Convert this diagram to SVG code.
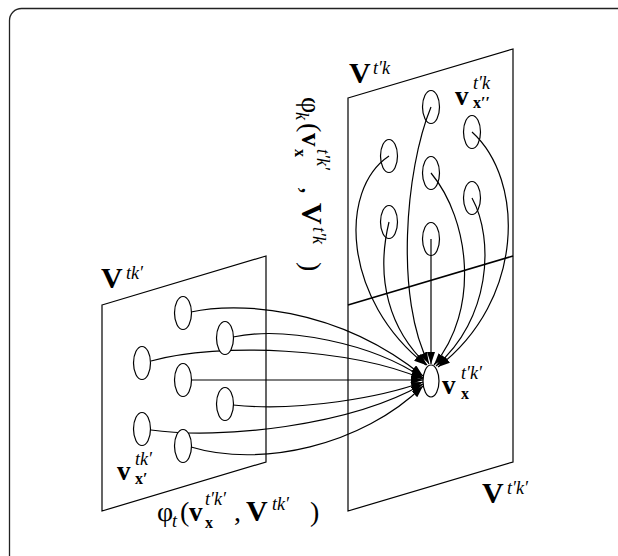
<svg xmlns="http://www.w3.org/2000/svg" width="618" height="556" viewBox="0 0 618 556">
<defs>
<marker id="ah" markerUnits="userSpaceOnUse" markerWidth="13" markerHeight="8" refX="12" refY="4" orient="auto">
<path d="M0,0 L12,4 L0,8 z" fill="#000"/>
</marker>
<style>
.frame{fill:none;stroke:#222;stroke-width:1.3}
.edge{fill:none;stroke:#000;stroke-width:1.2}
.hz{fill:none;stroke:#000;stroke-width:1.6}
.nd{fill:#fff;stroke:#000;stroke-width:1.2}
.c{fill:none;stroke:#000;stroke-width:1.2;marker-end:url(#ah)}
text{font-family:"Liberation Serif","DejaVu Serif",serif;fill:#000}
.B{font-weight:bold}
.big{font-size:30px}
.med{font-size:27px}
.sup{font-size:18px;font-style:italic}
.sub{font-size:16px;font-weight:bold}
.fn{font-size:28px}
</style>
</defs>
<rect class="frame" x="9.5" y="8.5" width="640" height="600" rx="12"/>

<g id="panel-right">
<path class="edge" d="M348,98 L513,49 L513,462 L348,511 Z"/>
<path class="hz" d="M348,305 L513,256"/>
</g>
<g id="panel-left">
<path class="edge" d="M102,305 L266,256 L266,462 L102,511 Z"/>
</g>

<g id="connectors">
<path class="c" d="M191,312 C235,302 335,305 423,376"/>
<path class="c" d="M233,337 C285,326 372,343 423,378"/>
<path class="c" d="M151,361 C220,342 350,348 423,379"/>
<path class="c" d="M191,380 L423,380"/>
<path class="c" d="M233,405 C300,412 382,397 423,382"/>
<path class="c" d="M151,430 C220,440 350,426 423,384"/>
<path class="c" d="M191,447 C260,468 362,446 423,386"/>
<path class="c" d="M431,107 C405,170 395,300 429,364"/>
<path class="c" d="M389,156 C338,190 343,300 426,365"/>
<path class="c" d="M389,222 C375,280 390,330 427,365"/>
<path class="c" d="M431,239 L431,364"/>
<path class="c" d="M431,173 C470,220 480,310 434,365"/>
<path class="c" d="M472,198 C495,240 490,320 436,366"/>
<path class="c" d="M472,132 C525,180 525,300 438,367"/>
</g>

<g id="l1"><ellipse class="nd" cx="183" cy="313" rx="8.5" ry="16.5"/></g>
<g id="l2"><ellipse class="nd" cx="225" cy="338" rx="8.5" ry="16.5"/></g>
<g id="l3"><ellipse class="nd" cx="142" cy="363" rx="8.5" ry="16.5"/></g>
<g id="l4"><ellipse class="nd" cx="183" cy="380" rx="8.5" ry="16.5"/></g>
<g id="l5"><ellipse class="nd" cx="225" cy="404" rx="8.5" ry="16.5"/></g>
<g id="l6"><ellipse class="nd" cx="142" cy="429" rx="8.5" ry="16.5"/></g>
<g id="l7"><ellipse class="nd" cx="183" cy="446" rx="8.5" ry="16.5"/></g>

<g id="r1"><ellipse class="edge" cx="431" cy="107" rx="8.5" ry="16.5"/></g>
<g id="r2"><ellipse class="edge" cx="472" cy="132" rx="8.5" ry="16.5"/></g>
<g id="r3"><ellipse class="edge" cx="389" cy="156" rx="8.5" ry="16.5"/></g>
<g id="r4"><ellipse class="edge" cx="431" cy="173" rx="8.5" ry="16.5"/></g>
<g id="r5"><ellipse class="edge" cx="472" cy="198" rx="8.5" ry="16.5"/></g>
<g id="r6"><ellipse class="edge" cx="389" cy="222" rx="8.5" ry="16.5"/></g>
<g id="r7"><ellipse class="edge" cx="431" cy="239" rx="8.5" ry="16.5"/></g>

<g id="target"><ellipse class="nd" cx="431" cy="381" rx="8" ry="16"/></g>

<g id="labels">
<text><tspan class="B big" x="349" y="83">V</tspan><tspan class="sup" x="373" y="74">t′k</tspan></text>
<text><tspan class="B med" x="455" y="105">v</tspan><tspan class="sup" x="473" y="89">t′k</tspan><tspan class="sub" x="473" y="108">x′′</tspan></text>
<text><tspan class="B big" x="101" y="288">V</tspan><tspan class="sup" x="126" y="279">tk′</tspan></text>
<text><tspan class="B med" x="117" y="480">v</tspan><tspan class="sup" x="135" y="465">tk′</tspan><tspan class="sub" x="135" y="484">x′</tspan></text>
<text><tspan class="B med" x="442" y="394">v</tspan><tspan class="sup" x="461" y="379">t′k′</tspan><tspan class="sub" x="461" y="399">x</tspan></text>
<text><tspan class="B big" x="482" y="503">V</tspan><tspan class="sup" x="507" y="494">t′k′</tspan></text>
<text><tspan class="fn" x="157" y="521">φ</tspan><tspan class="sup" x="172" y="527">t</tspan><tspan class="fn" x="180" y="521">(</tspan><tspan class="B med" x="189" y="521">v</tspan><tspan class="sup" x="205" y="505">t′k′</tspan><tspan class="sub" x="205" y="528">x</tspan><tspan class="fn" x="234" y="521">,</tspan><tspan class="B big" x="246" y="521">V</tspan><tspan class="sup" x="272" y="510">tk′</tspan><tspan class="fn" x="310" y="521">)</tspan></text>
<g transform="translate(302,97) rotate(90)">
<text><tspan class="fn" x="0" y="0">φ</tspan><tspan class="sup" x="15" y="6">k</tspan><tspan class="fn" x="26" y="0">(</tspan><tspan class="B med" x="36" y="0">v</tspan><tspan class="sup" x="52" y="-15">t′k′</tspan><tspan class="sub" x="52" y="7">x</tspan><tspan class="fn" x="90" y="0">,</tspan><tspan class="B big" x="106" y="0">V</tspan><tspan class="sup" x="130" y="-11">t′k</tspan><tspan class="fn" x="165" y="0">)</tspan></text>
</g>
</g>
</svg>
